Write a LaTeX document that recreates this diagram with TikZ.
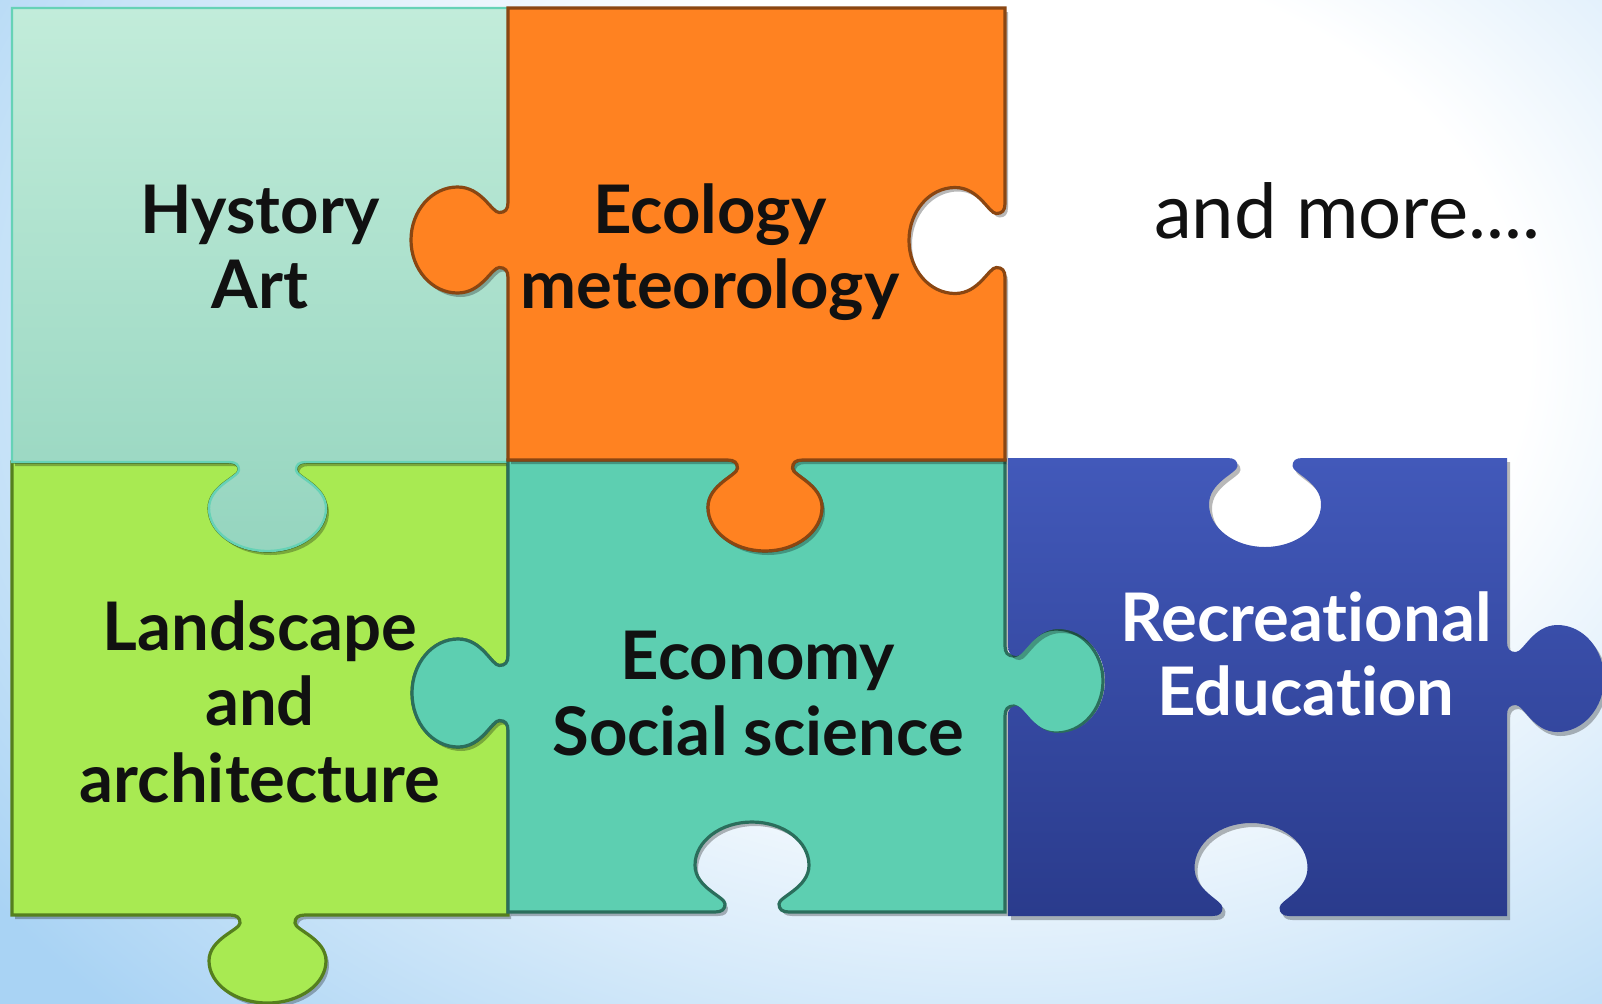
\documentclass[tikz,border=0pt]{standalone}
\usepackage{fontspec}
\setmainfont{Lato}[Ligatures=NoCommon]
\usetikzlibrary{shadows}
\definecolor{bgblue}{HTML}{A9D3F4}
\definecolor{aTop}{HTML}{C2ECDA}
\definecolor{aBot}{HTML}{95D5BF}
\definecolor{aLine}{HTML}{66D2B6}
\definecolor{bFill}{HTML}{FF8221}
\definecolor{bLine}{HTML}{8A4612}
\definecolor{cFill}{HTML}{A8EA52}
\definecolor{cLine}{HTML}{557F1E}
\definecolor{dFill}{HTML}{5DCFB1}
\definecolor{dLine}{HTML}{2B6E5C}
\definecolor{eTop}{HTML}{4259BA}
\definecolor{eBot}{HTML}{2A3B8C}
\definecolor{txtc}{HTML}{111111}
\pgfdeclareradialshading{bgshade}{\pgfpoint{0bp}{0bp}}{color(0bp)=(white); color(11bp)=(white); color(26bp)=(bgblue); color(50bp)=(bgblue)}
% horizontal edge tab: #1 centre x, #2 edge y, #3 travel dir, #4 outward dir, #5 neck, #6 bulb, #7 depth
\newcommand\htab[7]{%
 -- ({#1+(#3)*(-(#5)-10)},{#2})
 .. controls ({#1+(#3)*(-(#5)-3)},{#2}) and ({#1-(#3)*(#5)},{#2+(#4)*0.03*(#7)}) .. ({#1-(#3)*(#5)},{#2+(#4)*0.09*(#7)})
 .. controls ({#1-(#3)*(#5)},{#2+(#4)*0.17*(#7)}) and ({#1-(#3)*(#6)},{#2+(#4)*0.27*(#7)}) .. ({#1-(#3)*(#6)},{#2+(#4)*0.52*(#7)})
 .. controls ({#1-(#3)*(#6)},{#2+(#4)*0.785*(#7)}) and ({#1-(#3)*0.552*(#6)},{#2+(#4)*(#7)}) .. ({#1},{#2+(#4)*(#7)})
 .. controls ({#1+(#3)*0.552*(#6)},{#2+(#4)*(#7)}) and ({#1+(#3)*(#6)},{#2+(#4)*0.785*(#7)}) .. ({#1+(#3)*(#6)},{#2+(#4)*0.52*(#7)})
 .. controls ({#1+(#3)*(#6)},{#2+(#4)*0.27*(#7)}) and ({#1+(#3)*(#5)},{#2+(#4)*0.17*(#7)}) .. ({#1+(#3)*(#5)},{#2+(#4)*0.09*(#7)})
 .. controls ({#1+(#3)*(#5)},{#2+(#4)*0.03*(#7)}) and ({#1+(#3)*((#5)+3)},{#2}) .. ({#1+(#3)*((#5)+10)},{#2})
}
% vertical edge tab: #1 centre y, #2 edge x, #3 travel dir, #4 outward dir, #5 neck, #6 bulb, #7 depth
\newcommand\vtab[7]{%
 -- ({#2},{#1+(#3)*(-(#5)-10)})
 .. controls ({#2},{#1+(#3)*(-(#5)-3)}) and ({#2+(#4)*0.03*(#7)},{#1-(#3)*(#5)}) .. ({#2+(#4)*0.09*(#7)},{#1-(#3)*(#5)})
 .. controls ({#2+(#4)*0.17*(#7)},{#1-(#3)*(#5)}) and ({#2+(#4)*0.27*(#7)},{#1-(#3)*(#6)}) .. ({#2+(#4)*0.52*(#7)},{#1-(#3)*(#6)})
 .. controls ({#2+(#4)*0.785*(#7)},{#1-(#3)*(#6)}) and ({#2+(#4)*(#7)},{#1-(#3)*0.552*(#6)}) .. ({#2+(#4)*(#7)},{#1})
 .. controls ({#2+(#4)*(#7)},{#1+(#3)*0.552*(#6)}) and ({#2+(#4)*0.785*(#7)},{#1+(#3)*(#6)}) .. ({#2+(#4)*0.52*(#7)},{#1+(#3)*(#6)})
 .. controls ({#2+(#4)*0.27*(#7)},{#1+(#3)*(#6)}) and ({#2+(#4)*0.17*(#7)},{#1+(#3)*(#5)}) .. ({#2+(#4)*0.09*(#7)},{#1+(#3)*(#5)})
 .. controls ({#2+(#4)*0.03*(#7)},{#1+(#3)*(#5)}) and ({#2},{#1+(#3)*((#5)+3)}) .. ({#2},{#1+(#3)*((#5)+10)})
}
\tikzset{
  shadowed/.style={drop shadow={shadow xshift=1.5pt, shadow yshift=-2pt, opacity=0.28, fill=black}},
  pieceA/.style={shadowed, top color=aTop, bottom color=aBot, draw=aLine, line width=1.2pt},
  pieceB/.style={shadowed, fill=bFill, draw=bLine, line width=1.6pt},
  pieceC/.style={shadowed, fill=cFill, draw=cLine, line width=1.6pt},
  pieceD/.style={shadowed, fill=dFill, draw=dLine, line width=1.6pt},
  pieceE/.style={shadowed, top color=eTop, bottom color=eBot},
  txt/.style={anchor=base, inner sep=0pt, text=txtc, font=\bfseries\fontsize{33.5}{38}\selectfont},
  txtw/.style={txt, text=white},
  txtr/.style={anchor=base, inner sep=0pt, text=txtc, font=\fontsize{38}{44}\selectfont}
}
\begin{document}
\begin{tikzpicture}[x=0.5pt,y=-0.5pt]
\useasboundingbox (0,0) rectangle (1602,1003);
% background
\begin{scope}
\clip (0,0) rectangle (1602,1003);
\fill[white] (0,0) rectangle (1602,1003);
\shade[shading=bgshade] (-200,-550) rectangle (2200,1250);
\end{scope}
% piece C (green)
\path[pieceC] (12,462) \htab{267.5}{462}{1}{1}{28.5}{58.5}{89}
  -- (508,462) \vtab{693}{508}{1}{-1}{27.5}{54}{96}
  -- (508,915) \htab{267.5}{915}{-1}{1}{27.5}{58.5}{88}
  -- (12,915) -- cycle;
% piece A (mint)
\path[pieceA] (12,8) -- (508,8) \vtab{240}{508}{1}{-1}{27.5}{53}{97}
  -- (508,462) \htab{267.5}{462}{-1}{1}{28.5}{58.5}{89}
  -- (12,462) -- cycle;
% piece D (teal)
\path[pieceD] (508,460) \htab{765}{460}{1}{1}{27.5}{57}{91}
  -- (1005,460) \vtab{681}{1005}{1}{1}{25}{52}{98}
  -- (1005,912) \htab{752}{912}{-1}{-1}{27}{57}{90}
  -- (508,912) \vtab{693}{508}{-1}{-1}{27.5}{54}{96}
  -- cycle;
% piece B (orange)
\path[pieceB] (508,8) -- (1005,8) \vtab{240.5}{1005}{1}{-1}{27}{53}{96}
  -- (1005,460) \htab{765}{460}{-1}{1}{27.5}{57}{91}
  -- (508,460) \vtab{240}{508}{-1}{-1}{27.5}{53}{97}
  -- cycle;
% piece E (blue)
\path[pieceE] (1008,458) \htab{1265}{458}{1}{1}{27.5}{56}{89}
  -- (1507,458) \vtab{678.5}{1507}{1}{1}{26.5}{53.5}{97}
  -- (1507,916) \htab{1251}{916}{-1}{-1}{28.5}{56.5}{93}
  -- (1008,916) \vtab{681}{1008}{-1}{1}{25}{52}{97}
  -- cycle;
% texts
\node[txt] (tA1) at (260,233) {Hystory};
\node[txt] (tA2) at (260,308) {Art};
\node[txt] (tB1) at (710,233) {Ecology};
\node[txt] (tB2) at (710,308) {meteorology};
\node[txtr] (tM) at (1347,238) {and more....};
\node[txt] (tC1) at (260,650) {Landscape};
\node[txt] (tC2) at (260,725) {and};
\node[txt] (tC3) at (260,802) {architecture};
\node[txt] (tD1) at (758,679) {Economy};
\node[txt] (tD2) at (758,755) {Social science};
\node[txtw] (tE1) at (1306,641) {Recreational};
\node[txtw] (tE2) at (1306,715) {Education};
\end{tikzpicture}
\end{document}
